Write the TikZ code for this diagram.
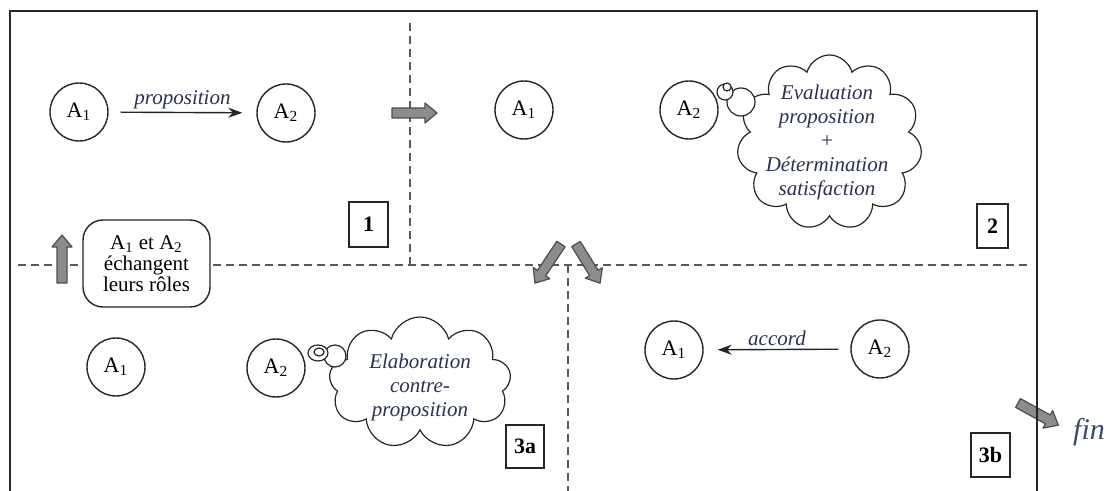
\documentclass[tikz,border=0pt]{standalone}
\usepackage{fontspec}
\setmainfont{Liberation Serif}
\usetikzlibrary{shapes.symbols,arrows.meta}
\definecolor{navy}{HTML}{2A3250}
\definecolor{finblue}{HTML}{3A4A6E}
\newcommand{\blockarrow}[4]{%
  \begin{scope}[shift={(#1,#2)},rotate=#3]
    \filldraw[blockarr] (0,-5) -- ({#4-12},-5) -- ({#4-12},-10) -- (#4,0) -- ({#4-12},10) -- ({#4-12},5) -- (0,5) -- cycle;
  \end{scope}}
\begin{document}
\begin{tikzpicture}[x=0.5pt,y=-0.5pt,
  ln/.style={draw=black!85, line width=0.7pt},
  agent/.style={circle, ln, minimum size=29pt, inner sep=0pt, font=\fontsize{11}{13}\selectfont},
  stagebox/.style={rectangle, ln, inner sep=0pt, font=\bfseries\fontsize{11}{13}\selectfont},
  divider/.style={draw=black!65, line width=0.6pt, dash pattern=on 4pt off 2.5pt},
  msg/.style={ln, -{Stealth[length=7pt,width=5pt]}, shorten <=6pt, shorten >=7pt},
  msglabel/.style={font=\itshape\fontsize{10.5}{12}\selectfont, text=navy, inner sep=1.5pt},
  thought/.style={cloud, ln, fill=white, inner sep=0pt, line width=0.6pt},
  thoughttext/.style={align=center, font=\itshape\fontsize{10.5}{12}\selectfont, text=navy},
  bubble/.style={ln, fill=white, line width=0.6pt},
  blockarr/.style={draw=black!70, fill=black!45, line width=0.6pt, line join=round},
  swapbox/.style={ln, rounded corners=10pt, fill=white, align=center, inner sep=0pt, font=\fontsize{10.5}{10.5}\selectfont},
]
\useasboundingbox (0,0) rectangle (1109,491);
\clip (0,0) rectangle (1109,491);
\fill[white] (0,0) rectangle (1109,491);

% dividers
\coordinate (hL) at (18,265);
\coordinate (hR) at (1030,265);
\coordinate (vT1) at (410,23);
\coordinate (vB1) at (410,265);
\coordinate (vT2) at (568,265);
\coordinate (vB2) at (568,495);
\draw[divider] (hL) -- (hR);
\draw[divider] (vT1) -- (vB1);
\draw[divider] (vT2) -- (vB2);

% panel 1
\node[agent] (a1) at (79,112) {A\textsubscript{1}};
\node[agent] (a2) at (286,113) {A\textsubscript{2}};
\draw[msg] (a1) -- node[above, msglabel] {proposition} (a2);
\node[stagebox, minimum width=19.5pt, minimum height=22.5pt] (s1) at (368.5,224.5) {1};

% panel 2
\node[agent] (b1) at (524,110) {A\textsubscript{1}};
\node[agent] (b2) at (689,110) {A\textsubscript{2}};
\node[thought, cloud puffs=11, minimum width=92.5pt, minimum height=87.5pt] (c1) at (829.5,142.5) {};
\node[thoughttext] (c1t) at (827,142.5) {Evaluation\\proposition\\+\\Détermination\\satisfaction};
\draw[bubble] (741,102) circle[radius=14];
\draw[bubble] (725,92) circle[radius=8];
\draw[bubble] (727,87) circle[radius=4];
\node[stagebox, minimum width=15.5pt, minimum height=22pt] (s2) at (992.5,226) {2};

% panel 3a
\node[agent] (d1) at (116,367) {A\textsubscript{1}};
\node[agent] (d2) at (276,368) {A\textsubscript{2}};
\node[thought, cloud puffs=9, minimum width=91pt, minimum height=66pt] (c2) at (420,383) {};
\node[thoughttext] (c2t) at (420,387) {Elaboration\\contre-\\proposition};
\draw[bubble] (335,356) circle[radius=11];
\draw[bubble] (318,353) ellipse[x radius=10, y radius=8];
\draw[bubble] (319,352) ellipse[x radius=5, y radius=4];
\node[stagebox, minimum width=19pt, minimum height=21.5pt] (s3a) at (525,446.5) {3a};

% panel 3b
\node[agent] (e1) at (674,350) {A\textsubscript{1}};
\node[agent] (e2) at (880,349) {A\textsubscript{2}};
\draw[msg] (e2) -- node[above, msglabel] {accord} (e1);
\node[stagebox, minimum width=19.5pt, minimum height=22pt] (s3b) at (990.5,455) {3b};

% role swap
\node[swapbox, minimum width=63.5pt, minimum height=43.5pt] (swap) at (146.5,263.5) {A\textsubscript{1} et A\textsubscript{2}\\échangent\\leurs rôles};

% block arrows
\blockarrow{392}{113}{0}{45}
\blockarrow{62}{283}{90}{48}
\blockarrow{561}{244}{236.3}{47}
\blockarrow{576}{244}{-58.4}{46}
\blockarrow{1018}{403}{-28.8}{46}

\node[font=\itshape\fontsize{15}{18}\selectfont, text=finblue, inner sep=0pt] (fin) at (1089,432) {fin};

% frame
\draw[ln] (10,11) rectangle (1037,500);
\end{tikzpicture}
\end{document}
